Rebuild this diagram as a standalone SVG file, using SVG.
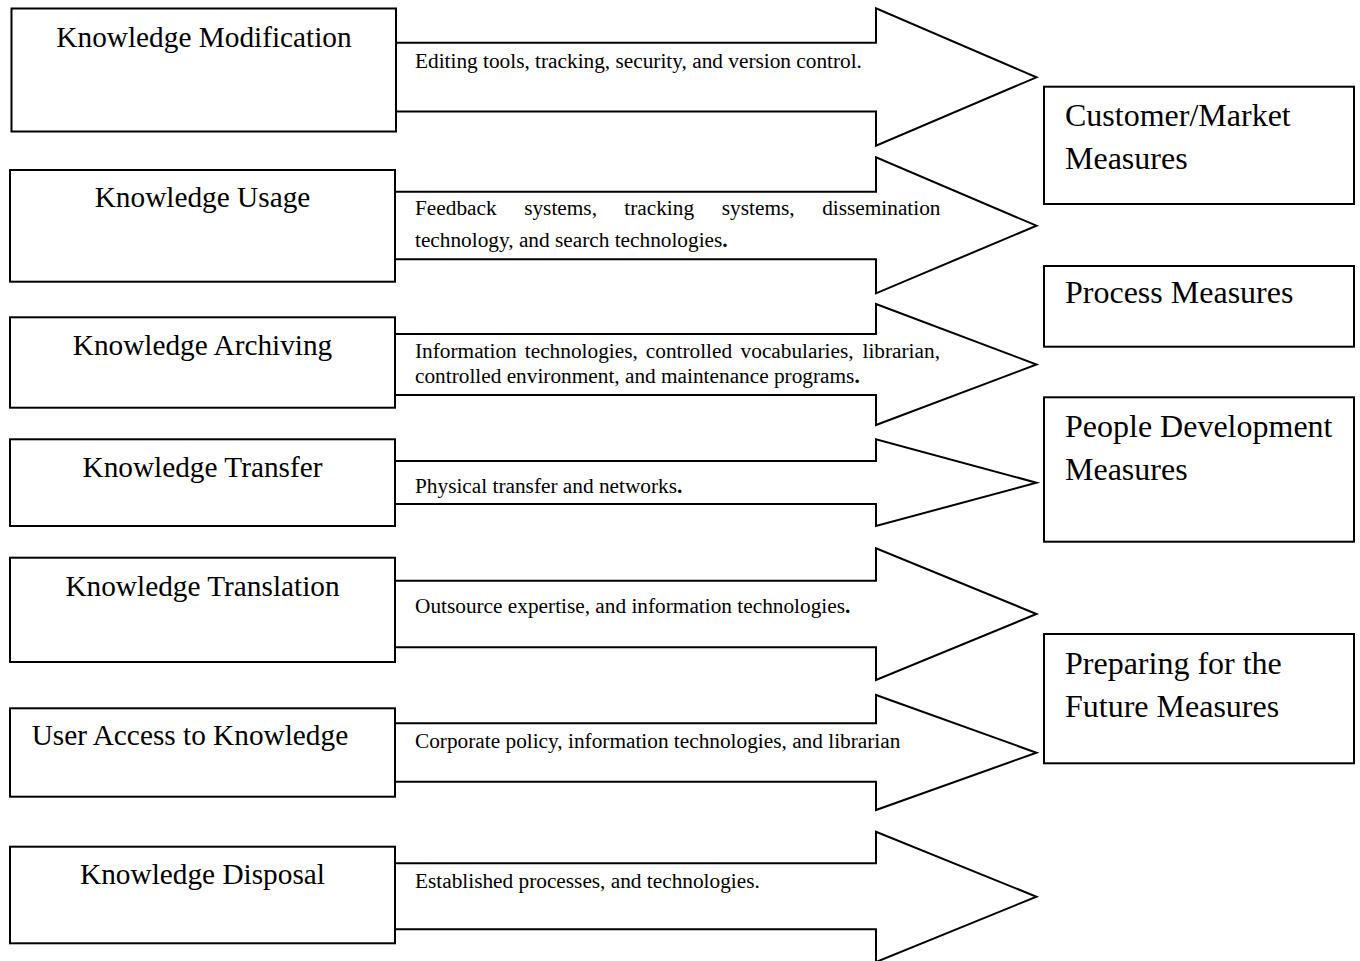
<svg xmlns="http://www.w3.org/2000/svg" width="1360" height="961" viewBox="0 0 1360 961">
<style>
.box{fill:#fff;stroke:#000;stroke-width:2}
.arr{fill:#fff;stroke:#000;stroke-width:2;stroke-linejoin:miter}
.lt{font-family:"Liberation Serif","Times New Roman",serif;font-size:29.3px;fill:#000;text-anchor:middle}
.rt{font-family:"Liberation Serif","Times New Roman",serif;font-size:32px;fill:#000}
.at{font-family:"Liberation Serif","Times New Roman",serif;font-size:21.3px;fill:#000}
.b{font-weight:bold}
</style>
<rect width="1360" height="961" fill="#fff"/>
<g id="connectors">
<path class="arr" d="M395,42.7 H876 V8.3 L1036.5,77.3 L876,145.7 V111.5 H395"/>
<path class="arr" d="M395,191.7 H876 V157.3 L1036.5,225.7 L876,293.3 V259.3 H395"/>
<path class="arr" d="M395,334 H876 V304 L1036.5,364.5 L876,425 V395 H395"/>
<path class="arr" d="M395,461 H876 V439.3 L1036.5,482.7 L876,526 V504 H395"/>
<path class="arr" d="M395,580.7 H876 V548.3 L1036.5,614 L876,680 V647.3 H395"/>
<path class="arr" d="M395,723.3 H876 V695 L1036.5,752.7 L876,810 V781.7 H395"/>
<path class="arr" d="M395,863.3 H876 V831.7 L1036.5,896.7 L876,962 V929.3 H395"/>
<text class="at" x="415" y="68">Editing tools, tracking, security, and version control.</text>
<text class="at" y="215"><tspan x="415">Feedback</tspan><tspan x="524.2">systems,</tspan><tspan x="624.3">tracking</tspan><tspan x="721.8">systems,</tspan><tspan x="822.2">dissemination</tspan></text>
<text class="at" x="415" y="247">technology, and search technologies<tspan class="b">.</tspan></text>
<text class="at" y="358.3"><tspan x="415">Information</tspan><tspan x="524.8">technologies,</tspan><tspan x="645.8">controlled</tspan><tspan x="740.6">vocabularies,</tspan><tspan x="862.5">librarian,</tspan></text>
<text class="at" x="415" y="383.3">controlled environment, and maintenance programs<tspan class="b">.</tspan></text>
<text class="at" x="415" y="492.7">Physical transfer and networks<tspan class="b">.</tspan></text>
<text class="at" x="415" y="613.3">Outsource expertise, and information technologies<tspan class="b">.</tspan></text>
<text class="at" x="415" y="748.3">Corporate policy, information technologies, and librarian</text>
<text class="at" x="415" y="888.3">Established processes, and technologies.</text>
</g>
<g id="n1"><rect class="box" x="11.5" y="8.5" width="384.5" height="123"/><text class="lt" x="204" y="47">Knowledge Modification</text></g>
<g id="n2"><rect class="box" x="10" y="170" width="385" height="111.7"/><text class="lt" x="202.5" y="207">Knowledge Usage</text></g>
<g id="n3"><rect class="box" x="10" y="317.3" width="385" height="90.4"/><text class="lt" x="202.5" y="355">Knowledge Archiving</text></g>
<g id="n4"><rect class="box" x="10" y="439.3" width="385" height="86.7"/><text class="lt" x="202.5" y="477">Knowledge Transfer</text></g>
<g id="n5"><rect class="box" x="10" y="557.7" width="385" height="104.3"/><text class="lt" x="202.5" y="596">Knowledge Translation</text></g>
<g id="n6"><rect class="box" x="10" y="708.3" width="385" height="88.4"/><text class="lt" x="31.7" y="745" style="text-anchor:start">User Access to Knowledge</text></g>
<g id="n7"><rect class="box" x="10" y="846.7" width="385" height="96.6"/><text class="lt" x="202.5" y="884">Knowledge Disposal</text></g>
<g id="m1"><rect class="box" x="1044" y="86.7" width="310" height="117.3"/><text class="rt" x="1065" y="126">Customer/Market</text><text class="rt" x="1065" y="169">Measures</text></g>
<g id="m2"><rect class="box" x="1044" y="266" width="310" height="80.7"/><text class="rt" x="1065" y="303">Process Measures</text></g>
<g id="m3"><rect class="box" x="1044" y="397.3" width="310" height="144.4"/><text class="rt" x="1065" y="437">People Development</text><text class="rt" x="1065" y="480">Measures</text></g>
<g id="m4"><rect class="box" x="1044" y="634" width="310" height="129.3"/><text class="rt" x="1065" y="674">Preparing for the</text><text class="rt" x="1065" y="717">Future Measures</text></g>
</svg>
